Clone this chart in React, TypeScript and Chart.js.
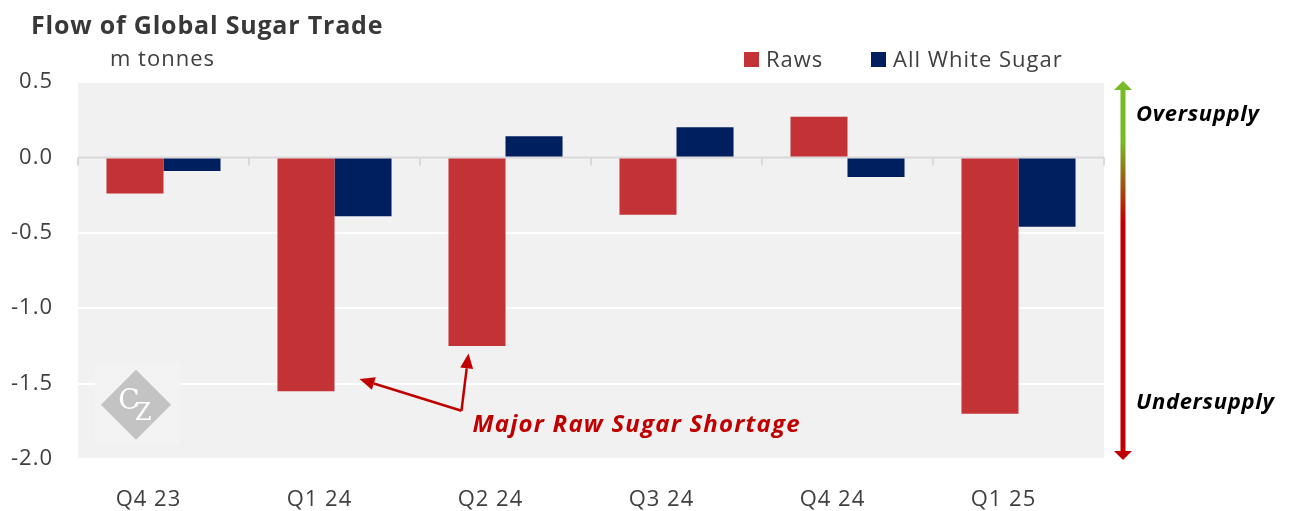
import React, { useEffect, useRef } from "react";
import { Chart, registerables } from "chart.js";

Chart.register(...registerables);

const categories = ["Q4 23", "Q1 24", "Q2 24", "Q3 24", "Q4 24", "Q1 25"];
const rawsValues = [-0.24, -1.55, -1.25, -0.38, 0.27, -1.7];
const whiteValues = [-0.09, -0.39, 0.14, 0.2, -0.13, -0.46];
const yTickValues = [0.5, 0, -0.5, -1, -1.5, -2];
const seriesNames = ["Raws", "All White Sugar"];
const seriesColors = ["#c33336", "#001f5f"];
const titleText = "Flow of Global Sugar Trade";
const unitText = "m tonnes";
const annotationText = "Major Raw Sugar Shortage";
const topSideLabel = "Oversupply";
const bottomSideLabel = "Undersupply";

const FONT = "'Open Sans', 'Noto Sans', sans-serif";
const TEXT = "#404040";
const DARK_RED = "#c00000";

function arrow(ctx: CanvasRenderingContext2D, x1: number, y1: number, x2: number, y2: number, color: string) {
  const ang = Math.atan2(y2 - y1, x2 - x1);
  const headLen = 15;
  const headW = 6.5;
  const bx = x2 - headLen * Math.cos(ang);
  const by = y2 - headLen * Math.sin(ang);
  ctx.save();
  ctx.strokeStyle = color;
  ctx.fillStyle = color;
  ctx.lineWidth = 2.5;
  ctx.beginPath();
  ctx.moveTo(x1, y1);
  ctx.lineTo(bx, by);
  ctx.stroke();
  ctx.beginPath();
  ctx.moveTo(x2, y2);
  ctx.lineTo(bx + headW * Math.sin(ang), by - headW * Math.cos(ang));
  ctx.lineTo(bx - headW * Math.sin(ang), by + headW * Math.cos(ang));
  ctx.closePath();
  ctx.fill();
  ctx.restore();
}

const decorPlugin = {
  id: "decor",
  beforeInit(chart: any) {
    (chart.ctx as any).letterSpacing = "1px";
  },
  beforeDraw(chart: any) {
    const { ctx, chartArea: a } = chart;
    (ctx as any).letterSpacing = "1px";
    ctx.save();
    ctx.fillStyle = "#f1f1f1";
    ctx.fillRect(a.left, a.top, a.right - a.left, a.bottom - a.top);
    ctx.restore();
  },
  beforeDatasetsDraw(chart: any) {
    const { ctx, chartArea: a, scales } = chart;
    const y0 = scales.y.getPixelForValue(0);
    // watermark
    ctx.save();
    (ctx as any).letterSpacing = "0px";
    const cx = a.left + 58;
    const cy = scales.y.getPixelForValue(-1.64);
    ctx.fillStyle = "#f3f3f3";
    ctx.fillRect(cx - 41, cy - 42, 85, 81);
    ctx.fillStyle = "#c3c3c3";
    ctx.beginPath();
    ctx.moveTo(cx, cy - 35);
    ctx.lineTo(cx + 35, cy);
    ctx.lineTo(cx, cy + 35);
    ctx.lineTo(cx - 35, cy);
    ctx.closePath();
    ctx.fill();
    ctx.fillStyle = "#ffffff";
    ctx.font = "28px 'DejaVu Serif', 'Liberation Serif', serif";
    ctx.textAlign = "center";
    ctx.textBaseline = "alphabetic";
    ctx.fillText("C", cx - 7, cy + 4);
    ctx.font = "24px 'DejaVu Serif', 'Liberation Serif', serif";
    ctx.fillText("Z", cx + 7, cy + 15);
    ctx.restore();
    // zero line with category tick marks
    ctx.save();
    ctx.strokeStyle = "#d9d9d9";
    ctx.lineWidth = 2;
    ctx.beginPath();
    ctx.moveTo(a.left, y0);
    ctx.lineTo(a.right, y0);
    const n = categories.length;
    const step = (a.right - a.left) / n;
    for (let i = 0; i <= n; i++) {
      const x = a.left + i * step;
      ctx.moveTo(x, y0);
      ctx.lineTo(x, y0 + 8);
    }
    ctx.stroke();
    ctx.restore();
  },
  afterDraw(chart: any) {
    const { ctx, chartArea: a, scales } = chart;
    ctx.save();
    // title
    ctx.fillStyle = "#383838";
    (ctx as any).letterSpacing = "0.8px";
    ctx.font = `bold 25px ${FONT}`;
    ctx.textAlign = "left";
    ctx.textBaseline = "alphabetic";
    ctx.fillText(titleText, 31, 34);
    // unit
    (ctx as any).letterSpacing = "1px";
    ctx.fillStyle = TEXT;
    ctx.font = `22px ${FONT}`;
    ctx.fillText(unitText, 110, 66);
    // legend
    const legendX = [744, 871];
    seriesNames.forEach((name, i) => {
      ctx.fillStyle = seriesColors[i];
      ctx.fillRect(legendX[i], 52, 15, 15);
      ctx.fillStyle = TEXT;
      ctx.font = `22px ${FONT}`;
      ctx.fillText(name, legendX[i] + 22, 67);
    });
    // side arrow
    const ax = a.right + 19;
    const top = a.top - 1;
    const bot = a.bottom + 1;
    const grad = ctx.createLinearGradient(0, top, 0, bot);
    grad.addColorStop(0, "#77bb25");
    grad.addColorStop(0.16, "#77bb25");
    grad.addColorStop(0.37, "#c00000");
    grad.addColorStop(1, "#c00000");
    ctx.fillStyle = grad;
    ctx.fillRect(ax - 2.5, top + 8, 5, bot - top - 16);
    ctx.fillStyle = "#77bb25";
    ctx.beginPath();
    ctx.moveTo(ax, top);
    ctx.lineTo(ax + 9, top + 9);
    ctx.lineTo(ax - 9, top + 9);
    ctx.closePath();
    ctx.fill();
    ctx.fillStyle = "#c00000";
    ctx.beginPath();
    ctx.moveTo(ax, bot);
    ctx.lineTo(ax + 9, bot - 9);
    ctx.lineTo(ax - 9, bot - 9);
    ctx.closePath();
    ctx.fill();
    ctx.fillStyle = "#000000";
    (ctx as any).letterSpacing = "0.7px";
    ctx.font = `italic bold 22px ${FONT}`;
    ctx.fillText(topSideLabel, ax + 13, 121);
    ctx.fillText(bottomSideLabel, ax + 13, 409);
    // annotation
    const xs = scales.x;
    const ys = scales.y;
    const tailX = xs.getPixelForValue(1) + 127;
    const tailY = ys.getPixelForValue(-1.68);
    arrow(ctx, tailX, tailY, xs.getPixelForValue(1) + 25, ys.getPixelForValue(-1.47), DARK_RED);
    arrow(ctx, tailX, tailY, xs.getPixelForValue(2) - 37, ys.getPixelForValue(-1.3), DARK_RED);
    ctx.fillStyle = DARK_RED;
    (ctx as any).letterSpacing = "1.2px";
    ctx.font = `italic bold 24px ${FONT}`;
    ctx.fillText(annotationText, tailX + 11, 432);
    ctx.restore();
  },
};

export default function App() {
  const ref = useRef<HTMLCanvasElement | null>(null);
  useEffect(() => {
    if (!ref.current) return;
    const chart = new Chart(ref.current, {
      type: "bar",
      data: {
        labels: categories,
        datasets: [
          { label: seriesNames[0], data: rawsValues, backgroundColor: seriesColors[0], borderWidth: 0 },
          { label: seriesNames[1], data: whiteValues, backgroundColor: seriesColors[1], borderWidth: 0 },
        ],
      },
      options: {
        responsive: false,
        animation: false,
        layout: { padding: { top: 82, right: 186, left: 0, bottom: 0 } },
        datasets: { bar: { categoryPercentage: 0.667, barPercentage: 1.0 } },
        plugins: {
          legend: { display: false },
          title: { display: false },
          tooltip: { enabled: false },
        },
        scales: {
          x: {
            grid: { display: false, drawTicks: false },
            border: { display: false },
            ticks: {
              padding: 28,
              labelOffset: -15,
              color: TEXT,
              font: { family: FONT, size: 22 },
              maxRotation: 0,
            },
            afterFit: (s: any) => {
              s.height = 52;
            },
          },
          y: {
            min: -2,
            max: 0.5,
            afterBuildTicks: (s: any) => {
              s.ticks = yTickValues.map((v) => ({ value: v }));
            },
            grid: {
              color: (c: any) => (c.tick && c.tick.value === 0 ? "rgba(0,0,0,0)" : "#ffffff"),
              lineWidth: 2,
              drawTicks: false,
            },
            border: { display: false },
            ticks: {
              padding: 25,
              color: TEXT,
              font: { family: FONT, size: 22 },
              callback: (v: any) => Number(v).toFixed(1),
            },
            afterFit: (s: any) => {
              s.width = 78;
            },
          },
        },
      },
      plugins: [decorPlugin],
    });
    return () => chart.destroy();
  }, []);
  return (
    <div style={{ position: "absolute", left: 0, top: 0, width: 1290, height: 511, background: "#ffffff" }}>
      <canvas ref={ref} width={1290} height={511} style={{ display: "block" }} />
    </div>
  );
}
